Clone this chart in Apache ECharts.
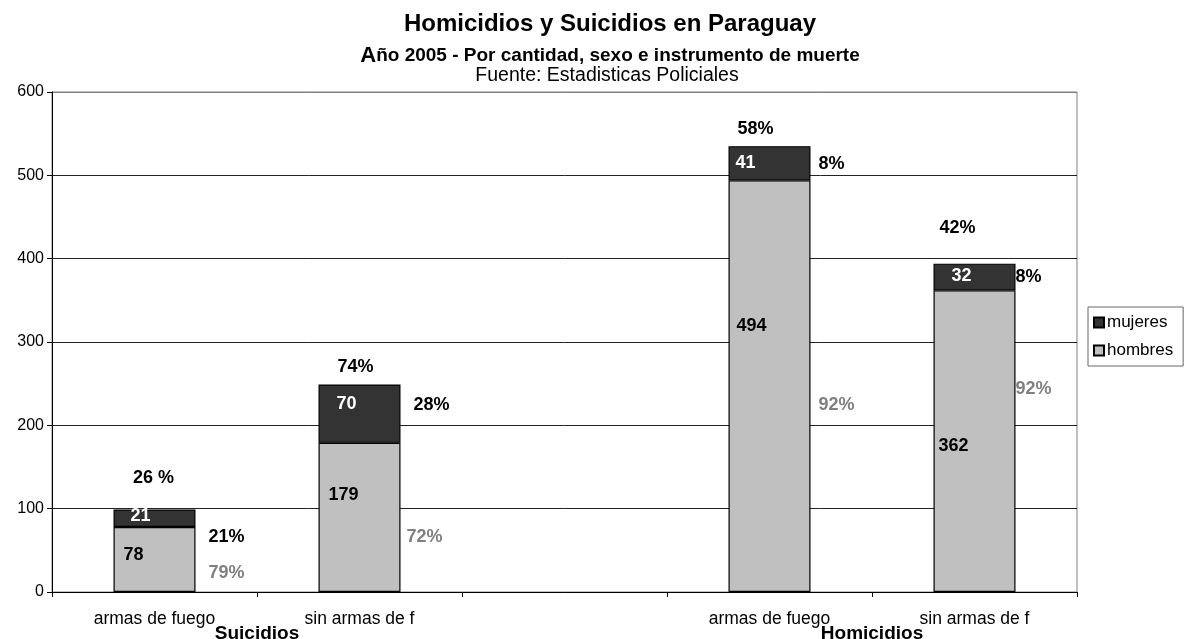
<!DOCTYPE html>
<html><head><meta charset="utf-8">
<script src="https://cdn.jsdelivr.net/npm/echarts@6/dist/echarts.min.js"></script>
<style>html,body{margin:0;padding:0;background:#fff}#c{width:1185px;height:639px}</style>
</head><body><div id="c"></div>
<script>
// ---- data ----
const categories = ['armas de fuego', 'sin armas de f', '', 'armas de fuego', 'sin armas de f'];
const groupLabels = ['', 'Suicidios', '', '', 'Homicidios', ''];
const hombres = [78, 179, null, 494, 362];
const mujeres = [21, 70, null, 41, 32];
const totalPct = ['26 %', '74%', '', '58%', '42%'];
const mujeresPct = ['21%', '28%', '', '8%', '8%'];
const hombresPct = ['79%', '72%', '', '92%', '92%'];
const yTicks = [0, 100, 200, 300, 400, 500, 600];

// ---- label layout (pixel offsets from bar centre / segment edges) ----
const labelLayout = [
  {top: [-1, -31.5], mv: [-14, 6.5], mp: [72, 27.5], hv: [-21, 28], hp: [72, 46]},
  {top: [-4, -17.5], mv: [-13, 19.5], mp: [72, 20.5], hv: [-16, 52], hp: [65, 94]},
  null,
  {top: [-14, -17], mv: [-24, 17], mp: [62, 18], hv: [-18, 146], hp: [67, 225]},
  {top: [-17, -36], mv: [-13, 12], mp: [54, 13], hv: [-21, 156], hp: [59, 99]}
];

const FF = '"Liberation Sans", Arial, sans-serif';
const chart = echarts.init(document.getElementById('c'), null, {renderer: 'canvas'});

const labelData = [];
categories.forEach((c, i) => { if (hombres[i] != null) labelData.push([i, hombres[i], mujeres[i]]); });

function txt(ref, d, text, color) {
  return {
    type: 'text',
    style: {
      x: ref[0] + d[0], y: ref[1] + d[1], text: text, fill: color,
      font: 'bold 18px ' + FF,
      textAlign: 'center', textVerticalAlign: 'middle', align: 'center', verticalAlign: 'middle'
    }
  };
}

const option = {
  backgroundColor: '#fff',
  animation: false,
  title: [
    {text: 'Homicidios y Suicidios en Paraguay', left: 610, top: 12, textAlign: 'center', padding: 0,
     textStyle: {fontSize: 24, fontWeight: 'bold', color: '#000', fontFamily: FF}},
    {text: '{a|A}ño 2005 - Por cantidad, sexo e instrumento de muerte', left: 610, top: 45, textAlign: 'center', padding: 0,
     textStyle: {fontSize: 19, fontWeight: 'bold', color: '#000', fontFamily: FF,
       rich: {a: {fontSize: 22, fontWeight: 'bold', color: '#000', fontFamily: FF}}}},
    {text: 'Fuente: Estadisticas Policiales', left: 607, top: 66, textAlign: 'center', padding: 0,
     textStyle: {fontSize: 19.5, fontWeight: 'normal', color: '#000', fontFamily: FF}}
  ],
  legend: {
    data: ['mujeres', 'hombres'],
    orient: 'vertical',
    left: 1088, top: 307,
    itemWidth: 10, itemHeight: 10, itemGap: 11,
    icon: 'rect',
    padding: [7, 10, 7, 5],
    borderColor: '#666', borderWidth: 1,
    textStyle: {fontSize: 17, color: '#000', fontFamily: FF, padding: [0, 0, 0, -2]}
  },
  grid: {left: 52, right: 108, top: 92, bottom: 47, show: true, borderColor: '#808080', borderWidth: 1,
         backgroundColor: 'transparent', containLabel: false, outerBoundsMode: 'none'},
  xAxis: [
    {
      type: 'category', data: categories, boundaryGap: true,
      axisLine: {show: true, lineStyle: {color: '#000', width: 1}},
      axisTick: {show: true, length: 5, interval: 0, lineStyle: {color: '#000'}},
      axisLabel: {interval: 0, fontSize: 17.5, color: '#000', fontFamily: FF, margin: 18},
      splitLine: {show: false}
    },
    {
      type: 'category', data: groupLabels, boundaryGap: false, position: 'bottom',
      axisLine: {show: false}, axisTick: {show: false}, splitLine: {show: false},
      axisLabel: {interval: 0, fontSize: 19, fontWeight: 'bold', color: '#000', fontFamily: FF, margin: 32}
    }
  ],
  yAxis: {
    type: 'value', min: yTicks[0], max: yTicks[yTicks.length - 1], interval: 100,
    axisLine: {show: true, lineStyle: {color: '#000', width: 1}},
    axisTick: {show: true, length: 5, lineStyle: {color: '#000'}},
    axisLabel: {fontSize: 16, color: '#000', fontFamily: FF, margin: 8},
    splitLine: {show: true, lineStyle: {color: ['#000', '#222', '#222', '#222', '#222', '#222', '#808080'], width: 1}}
  },
  series: [
    {name: 'hombres', type: 'bar', stack: 'total', data: hombres, barWidth: '40%',
     itemStyle: {color: '#C0C0C0', borderColor: '#000', borderWidth: 1.2}},
    {name: 'mujeres', type: 'bar', stack: 'total', data: mujeres, barWidth: '40%',
     itemStyle: {color: '#333333', borderColor: '#000', borderWidth: 1.2}},
    {
      type: 'custom', silent: true, z: 10, data: labelData,
      encode: {x: 0, y: 1},
      renderItem: function (params, api) {
        const i = api.value(0), h = api.value(1), m = api.value(2);
        const top = api.coord([i, h + m]);
        const bnd = api.coord([i, h]);
        const L = labelLayout[i];
        return {
          type: 'group',
          children: [
            txt(top, L.top, totalPct[i], '#000'),
            txt(top, L.mv, String(m), '#fff'),
            txt(top, L.mp, mujeresPct[i], '#000'),
            txt(bnd, L.hv, String(h), '#000'),
            txt(bnd, L.hp, hombresPct[i], '#808080')
          ]
        };
      }
    }
  ]
};
chart.setOption(option);
</script>
</body></html>
